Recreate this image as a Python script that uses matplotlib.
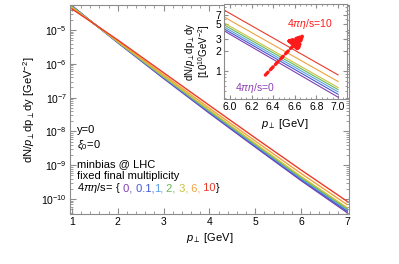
import matplotlib
matplotlib.use("Agg")
import matplotlib.pyplot as plt
from matplotlib.ticker import LogLocator, FixedLocator, FixedFormatter, NullFormatter, MultipleLocator

plt.rcParams['font.family'] = ['Liberation Sans', 'DejaVu Sans']
plt.rcParams['mathtext.fontset'] = 'custom'
plt.rcParams['mathtext.rm'] = 'Liberation Sans'
plt.rcParams['mathtext.it'] = 'Liberation Sans:italic'

# pT grid and spectra (GeV^-2)
pt = [1.0, 1.5, 2.0, 3.0, 4.0, 5.0, 6.0, 7.0]
eta_labels = ['0', '0.1', '1', '2', '3', '6', '10']
colors = ['#7d3fb0', '#4457d4', '#58a0e0', '#66b85a', '#c9c23e', '#f0a23c', '#ea3b2a']
dn_0 = [5.19e-5, 1.48e-5, 4.25e-6, 3.72e-7, 3.48e-8, 3.47e-9, 3.55e-10, 4.05e-11]
dn_01 = [5.25e-5, 1.48e-5, 4.33e-6, 3.86e-7, 3.67e-8, 3.69e-9, 3.80e-10, 4.47e-11]
dn_1 = [5.05e-5, 1.48e-5, 4.40e-6, 4.01e-7, 3.86e-8, 3.92e-9, 4.07e-10, 4.86e-11]
dn_2 = [4.90e-5, 1.48e-5, 4.47e-6, 4.17e-7, 4.07e-8, 4.17e-9, 4.37e-10, 5.25e-11]
dn_3 = [4.79e-5, 1.48e-5, 4.55e-6, 4.32e-7, 4.29e-8, 4.42e-9, 4.68e-10, 5.65e-11]
dn_6 = [4.52e-5, 1.48e-5, 4.76e-6, 4.79e-7, 4.92e-8, 5.25e-9, 5.75e-10, 6.95e-11]
dn_10 = [4.22e-5, 1.48e-5, 5.11e-6, 5.50e-7, 5.92e-8, 6.46e-9, 7.29e-10, 8.73e-11]
spectra = [dn_0, dn_01, dn_1, dn_2, dn_3, dn_6, dn_10]

frame = '#8c8c8c'

fig = plt.figure(figsize=(3.99, 2.64), dpi=100)
ax = fig.add_axes([0.175, 0.189, 0.700, 0.792])

for y, c in zip(spectra, colors):
    ax.plot(pt, y, color=c, lw=1.0)

ax.set_yscale('log')
ax.set_xlim(0.956, 7.05)
ax.set_ylim(3.6e-11, 5.5e-5)
ax.xaxis.set_major_locator(MultipleLocator(1))
ax.xaxis.set_minor_locator(MultipleLocator(0.2))
ax.yaxis.set_major_locator(LogLocator(base=10, numticks=20))
ax.yaxis.set_minor_locator(LogLocator(base=10, subs=range(2, 10), numticks=100))
ax.yaxis.set_minor_formatter(NullFormatter())
for s in ax.spines.values():
    s.set_color(frame)
ax.tick_params(which='both', direction='in', top=True, right=True, color=frame,
               labelsize=7.5, pad=2)
ax.tick_params(which='major', length=4)
ax.tick_params(which='minor', length=2)
ax.set_xlabel(r'$p_\perp$ [GeV]', fontsize=8, labelpad=3)
ax.set_ylabel(r'dN/$p_\perp$dp$_\perp$dy [GeV$^{-2}$]', fontsize=8, labelpad=3)

tx = 0.025
fs = 8
ax.text(tx, 0.39, 'y=0', transform=ax.transAxes, fontsize=fs)
ax.text(tx, 0.318, r'$\xi_0$=0', transform=ax.transAxes, fontsize=fs)
ax.text(tx, 0.225, 'minbias @ LHC', transform=ax.transAxes, fontsize=fs)
ax.text(tx, 0.167, 'fixed final multiplicity', transform=ax.transAxes, fontsize=fs)
prev = ax.text(tx, 0.109, r'$4\pi\eta$/s= {', transform=ax.transAxes, fontsize=fs,
               va='baseline')
pieces = [' 0,', ' 0.1,', '1,', ' 2,', ' 3,', ' 6,', ' 10']
for piece, c in zip(pieces, colors):
    prev = ax.annotate(piece, xy=(1, 0.109), xycoords=(prev, 'axes fraction'),
                       fontsize=fs, color=c, va='baseline', ha='left')
ax.annotate('}', xy=(1, 0.109), xycoords=(prev, 'axes fraction'),
            fontsize=fs, va='baseline', ha='left')

# inset zoom on 6-7 GeV
ins = fig.add_axes([0.561, 0.625, 0.308, 0.360])
for y, c in zip(spectra, colors):
    ins.plot(pt, [v * 1e10 for v in y], color=c, lw=0.8)
ins.set_yscale('log')
ins.set_xlim(5.944, 7.08)
ins.set_ylim(0.38, 10.1)
ins.xaxis.set_major_locator(MultipleLocator(0.2))
ins.xaxis.set_minor_locator(MultipleLocator(0.05))
ins.yaxis.set_major_locator(FixedLocator([1, 2, 3, 5, 7]))
ins.yaxis.set_major_formatter(FixedFormatter(['1', '2', '3', '5', '7']))
ins.yaxis.set_minor_locator(FixedLocator([0.4, 0.5, 0.6, 0.7, 0.8, 0.9, 4, 6, 8, 9, 10]))
ins.yaxis.set_minor_formatter(NullFormatter())
for s in ins.spines.values():
    s.set_color(frame)
ins.tick_params(which='both', direction='in', top=True, right=True, color=frame,
                labelsize=7.5, pad=2)
ins.tick_params(which='major', length=3)
ins.tick_params(which='minor', length=1.5)
ins.set_xlabel(r'$p_\perp$ [GeV]', fontsize=8, labelpad=4)
ins.set_ylabel('dN/$p_\\perp$dp$_\\perp$dy\n[10$^{10}$GeV$^{-2}$]', fontsize=7,
               labelpad=2, linespacing=1.0)
ins.annotate('', xy=(6.71, 3.9), xytext=(6.31, 0.81),
             arrowprops=dict(arrowstyle='-|>,head_width=0.45,head_length=0.9',
                             color='#ff1a1a', lw=2.4, linestyle=(0, (1.2, 1.0))))
ins.text(6.74, 5.0, r'$4\pi\eta$/s=10', color='#ff1a1a', fontsize=7.5,
         ha='center', va='center')
ins.text(6.23, 0.56, r'$4\pi\eta$/s=0', color='#8e3fb0', fontsize=7.5,
         ha='center', va='center')

fig.savefig('out.png', dpi=100)
